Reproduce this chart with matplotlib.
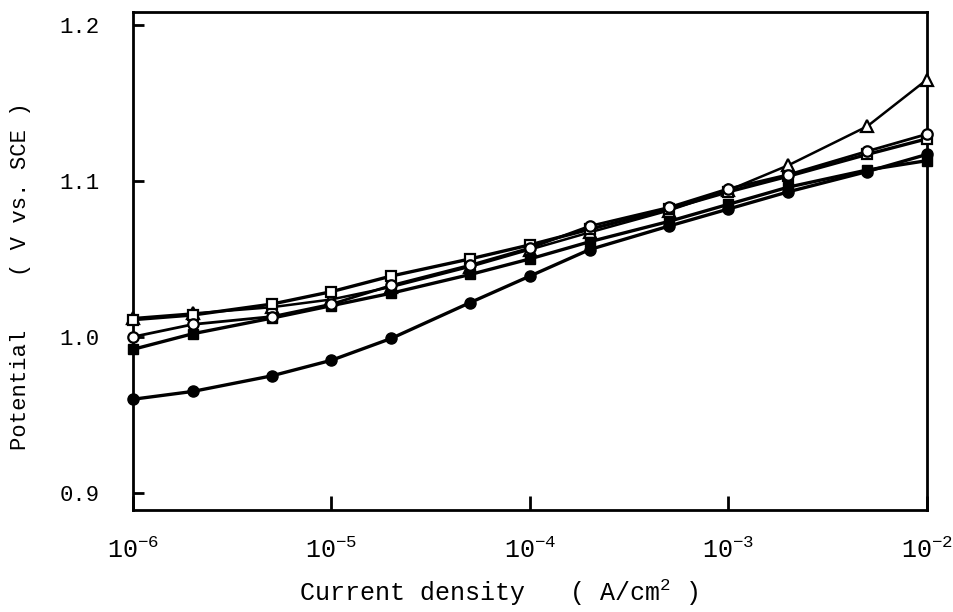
#!/usr/bin/env python3

import matplotlib
matplotlib.use('Agg')
import matplotlib.pyplot as plt
from matplotlib.ticker import FixedLocator, FixedFormatter

# Current density points (A/cm2)
current = [1e-6, 2e-6, 5e-6, 1e-5, 2e-5, 5e-5, 1e-4, 2e-4, 5e-4, 1e-3, 2e-3, 5e-3, 1e-2]

# Potential (V vs. SCE)
pot_open_triangle = [1.012, 1.015, 1.019, 1.024, 1.032, 1.045, 1.056, 1.067, 1.081, 1.094, 1.110, 1.135, 1.165]
pot_open_square = [1.011, 1.014, 1.021, 1.029, 1.039, 1.050, 1.059, 1.069, 1.082, 1.093, 1.103, 1.117, 1.127]
pot_open_circle = [1.000, 1.008, 1.013, 1.021, 1.033, 1.046, 1.057, 1.071, 1.083, 1.095, 1.104, 1.119, 1.130]
pot_filled_square = [0.992, 1.002, 1.012, 1.020, 1.028, 1.040, 1.050, 1.061, 1.074, 1.085, 1.096, 1.107, 1.113]
pot_filled_circle = [0.960, 0.965, 0.975, 0.985, 0.999, 1.022, 1.039, 1.056, 1.071, 1.082, 1.093, 1.106, 1.117]

x_ticks = [1e-6, 1e-5, 1e-4, 1e-3, 1e-2]
x_tick_labels = ['10$^{-6}$', '10$^{-5}$', '10$^{-4}$', '10$^{-3}$', '10$^{-2}$']
y_ticks = [0.9, 1.0, 1.1, 1.2]
y_tick_labels = ['0.9', '1.0', '1.1', '1.2']

FONT = 'Liberation Mono'
plt.rcParams['font.family'] = [FONT, 'DejaVu Sans Mono']
plt.rcParams['mathtext.fontset'] = 'custom'
plt.rcParams['mathtext.rm'] = FONT
plt.rcParams['mathtext.it'] = FONT
plt.rcParams['mathtext.default'] = 'rm'


def main():
    fig = plt.figure(figsize=(9.54, 6.12), dpi=100)
    ax = fig.add_axes([0.1394, 0.1667, 0.8323, 0.8137])

    # thin curve first so the thick ones sit on top
    ax.plot(current, pot_open_triangle, color='black', lw=1.8, marker='^', ms=8,
            mfc='white', mec='black', mew=1.6, zorder=3, clip_on=False)
    ax.plot(current, pot_open_square, color='black', lw=2.4, marker='s', ms=7,
            mfc='white', mec='black', mew=1.6, zorder=4, clip_on=False)
    ax.plot(current, pot_filled_square, color='black', lw=2.4, marker='s', ms=7,
            mfc='black', mec='black', zorder=4, clip_on=False)
    ax.plot(current, pot_open_circle, color='black', lw=2.0, marker='o', ms=7.5,
            mfc='white', mec='black', mew=1.6, zorder=5, clip_on=False)
    ax.plot(current, pot_filled_circle, color='black', lw=2.4, marker='o', ms=8,
            mfc='black', mec='black', zorder=5, clip_on=False)

    ax.set_xscale('log')
    ax.set_xlim(1e-6, 1e-2)
    ax.set_ylim(0.889, 1.2083)

    ax.xaxis.set_major_locator(FixedLocator(x_ticks))
    ax.xaxis.set_major_formatter(FixedFormatter(x_tick_labels))
    ax.xaxis.set_minor_locator(FixedLocator([]))
    ax.yaxis.set_major_locator(FixedLocator(y_ticks))
    ax.yaxis.set_major_formatter(FixedFormatter(y_tick_labels))

    ax.tick_params(axis='x', direction='in', length=10, width=2, pad=20, labelsize=18)
    ax.tick_params(axis='y', direction='in', length=8, width=2, pad=24, labelsize=16)
    ax.tick_params(top=False, right=False)
    for s in ax.spines.values():
        s.set_linewidth(2)

    ax.set_xlabel('Current density   ( A/cm$^2$ )', fontsize=18)
    ax.xaxis.set_label_coords(0.46, -0.135)
    ax.set_ylabel('Potential    ( V vs. SCE )', fontsize=16)
    ax.yaxis.set_label_coords(-0.128, 0.47)

    fig.savefig('out.png', dpi=100)


if __name__ == '__main__':
    main()
